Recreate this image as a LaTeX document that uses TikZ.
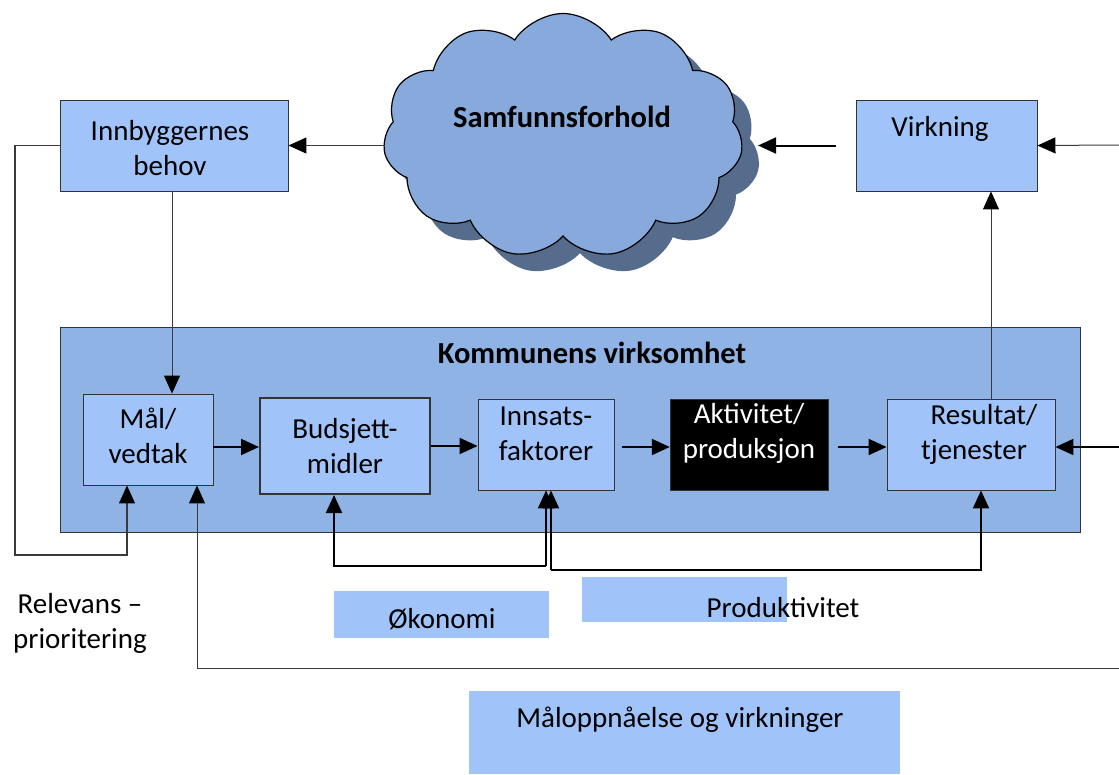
\documentclass[tikz,border=0pt]{standalone}
\usepackage{fontspec}
\setmainfont{Carlito}
\usetikzlibrary{arrows.meta,shapes.symbols}
\definecolor{boxblue}{HTML}{A0C3FA}
\definecolor{frameblue}{HTML}{8FB3E5}
\definecolor{cloudblue}{HTML}{88A9DC}
\definecolor{cloudshade}{HTML}{566C8C}
\definecolor{thinline}{HTML}{3A3A3A}
\tikzset{
  txt/.style={font=\fontsize{29}{35}\selectfont, align=center, inner sep=0pt},
  bold/.style={font=\bfseries\fontsize{30.5}{36}\selectfont, inner sep=0pt},
  stepbox/.style={draw=black!80, line width=0.9pt, fill=boxblue, inner sep=0pt},
  tip/.style={-{Triangle[length=18pt,width=16pt,color=black]}},
  thinarrow/.style={tip, draw=thinline, line width=1pt},
  thickarrow/.style={tip, draw=black, line width=2pt},
  plainfill/.style={fill=boxblue, draw=none}
}
\begin{document}
\begin{tikzpicture}[x=1pt,y=-1pt]
\useasboundingbox (0,0) rectangle (1119,774);

% cloud with its shadow
\node[cloud, cloud puffs=11, cloud puff arc=115, cloud ignores aspect,
      minimum width=360pt, minimum height=245pt, fill=cloudshade, draw=none]
      (cloudshadow) at (580,153) {};
\node[cloud, cloud puffs=11, cloud puff arc=115, cloud ignores aspect,
      minimum width=360pt, minimum height=245pt, fill=cloudblue, draw=black, line width=1.2pt]
      (cloud) at (563,136) {};
\node[bold] (cloudtxt) at (562,117) {Samfunnsforhold};

% top boxes
\node[stepbox, minimum width=228pt, minimum height=91pt] (behov) at (174,145.5) {};
\node[txt] (behovtxt) at (170,148) {Innbyggernes\\behov};
\node[stepbox, minimum width=181pt, minimum height=91pt] (virkning) at (946.5,145.5) {};
\node[txt] (virkningtxt) at (940,129) {Virkning};

% frame of the municipality's activity
\node[draw=black!80, line width=1pt, fill=frameblue, minimum width=1020pt, minimum height=205pt, inner sep=0pt]
      (frame) at (570,429.5) {};
\node[bold] (frametxt) at (592,353) {Kommunens virksomhet};

% process chain
\node[stepbox, minimum width=130pt, minimum height=91pt] (maal) at (148,439.5) {};
\node[txt] (maaltxt) at (148,436) {Mål/\\vedtak};
\node[stepbox, line width=2pt, minimum width=170pt, minimum height=96pt] (budsjett) at (345,446) {};
\node[txt] (budsjetttxt) at (345,446) {Budsjett-\\midler};
\node[stepbox, minimum width=136pt, minimum height=91pt] (innsats) at (546,444.5) {};
\node[txt] (innsatstxt) at (546,434) {Innsats-\\faktorer};
\node[draw=black!80, fill=black, minimum width=158pt, minimum height=91pt, inner sep=0pt] (aktivitet) at (749,444.5) {};
\node[txt, text=white] (aktivitettxt) at (749,433) {Aktivitet/\\produksjon};
\node[stepbox, minimum width=168pt, minimum height=91pt] (resultat) at (971,444.5) {};
\node[txt] (resultattxt) at (974,434) {\hspace*{20pt}Resultat/\\tjenester};

% label patches below the frame
\node[plainfill, minimum width=215pt, minimum height=47pt, inner sep=0pt] (okonomi) at (441.5,614.5) {};
\node[txt] (okonomitxt) at (442,619) {Økonomi};
\node[plainfill, minimum width=205pt, minimum height=45pt, inner sep=0pt] (produkt) at (684.5,599.5) {};
\node[txt] (produkttxt) at (783,608) {Produktivitet};
\node[plainfill, minimum width=431pt, minimum height=83pt, inner sep=0pt] (maaloppn) at (684.5,732.5) {};
\node[txt] (maaloppntxt) at (680,720) {Måloppnåelse og virkninger};
\node[txt] (relevans) at (80,623) {Relevans –\\prioritering};

% free ends at the right margin and corner points
\coordinate (rtop) at (1119,145);
\coordinate (rmid) at (1119,447);
\coordinate (rbot) at (1119,668);
\coordinate (lcorner) at (15,555);

% connectors between the top elements
\draw[thinarrow] (cloud.west |- behov.east) -- (behov.east);
\draw[thickarrow, shorten <=20pt] (virkning.west) -- (cloudshadow.east |- virkning.west);
\draw[thinarrow] (rtop) -- (virkning.east);
\draw[thinarrow] (resultat.north -| 991,0) -- (virkning.south -| 991,0);
\draw[thinarrow] (behov.south -| 172,0) -- (maal.north -| 172,0);

% chain arrows
\draw[thickarrow] (maal.east |- 0,447) -- (budsjett.west |- 0,447);
\draw[thickarrow] (budsjett.east) -- (innsats.west |- budsjett.east);
\draw[thickarrow, shorten <=8pt] (innsats.east |- 0,447) -- (aktivitet.west |- 0,447);
\draw[thickarrow, shorten <=10pt] (aktivitet.east |- 0,447) -- (resultat.west |- 0,447);
\draw[thickarrow] (rmid) -- (resultat.east |- rmid);

% feedback loops
\draw[thinarrow, line width=1.2pt] (behov.west) -| (lcorner) -| (maal.south -| 127,0);
\draw[thinarrow] (rbot) -| (maal.south -| 197,0);
\draw[thickarrow] (546,566) -| (budsjett.south -| 334,0);
\draw[thickarrow] (546,566) -- (innsats.south -| 546,0);
\draw[thickarrow] (551,570) -| (resultat.south -| 981,0);
\draw[thickarrow] (551,570) -- (innsats.south -| 551,0);
\end{tikzpicture}
\end{document}
